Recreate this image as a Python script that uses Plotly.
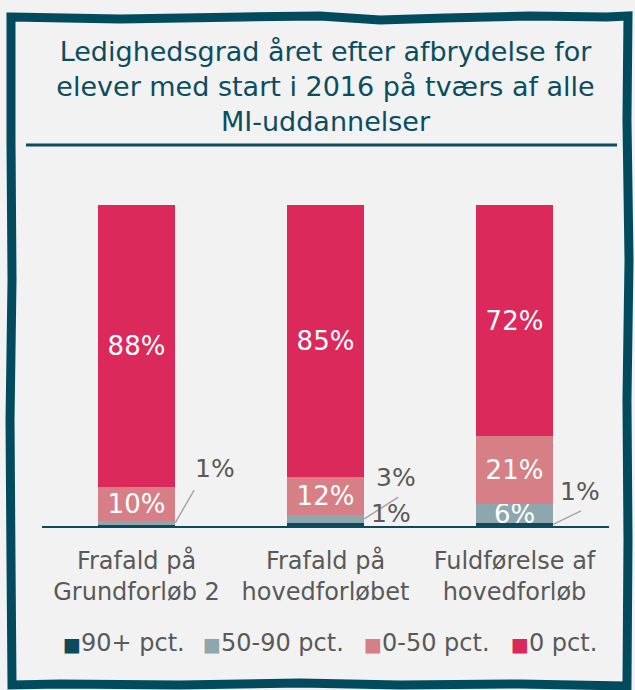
import plotly.graph_objects as go

# categories and series (percent of students)
categories = ["Frafald på<br>Grundforløb 2", "Frafald på<br>hovedforløbet", "Fuldførelse af<br>hovedforløb"]
series_names = ["90+ pct.", "50-90 pct.", "0-50 pct.", "0 pct."]
share_90plus = [0.4, 0.9, 1.0]
share_50_90 = [1.2, 2.6, 5.9]
share_0_50 = [10.4, 11.9, 21.2]
share_0 = [88.0, 84.6, 71.9]

colors = ["#0d4a5c", "#8ea7ae", "#d77f86", "#dc295c"]
TEAL = "#0b4d60"
GREY = "#595959"
FONT = "DejaVu Sans"
W, H = 635, 690
L, R, T, B = 42, 26, 205, 164
BAR_W = 0.41

series = [share_90plus, share_50_90, share_0_50, share_0]

fig = go.Figure()
for name, vals, col in zip(series_names, series, colors):
    txt = [f"{round(v)}%" if v >= 5 else "" for v in vals]
    fig.add_trace(go.Bar(
        x=list(range(len(categories))), y=vals, name=name,
        marker=dict(color=col, line=dict(width=0)),
        width=BAR_W, text=txt, texttemplate="%{text}",
        textposition="inside", insidetextanchor="middle",
        textangle=0, constraintext="none",
        textfont=dict(color="white", size=26, family=FONT),
        hoverinfo="skip", showlegend=False,
    ))

def paper(px, py):
    return (px - L) / (W - L - R), (H - B - py) / (H - T - B)

# small segments get an outside label (category, series, label dx/dy, line end dx/dy or None)
small = [
    (0, 1, 0.21, 17, (0.10, 10.2)),
    (1, 1, 0.17, 12.8, (0.18, 6.8)),
    (1, 0, 0.14, 3.5, None),
    (2, 0, 0.14, 10.1, (0.147, 4.2)),
]
for ci, si, dx, dy, line in small:
    val = series[si][ci]
    mid = sum(series[k][ci] for k in range(si)) + val / 2
    x0 = ci + BAR_W / 2
    fig.add_annotation(x=x0 + dx, y=mid + dy, text=f"{round(val)}%", showarrow=False,
                       font=dict(color=GREY, size=25, family=FONT))
    if line:
        fig.add_shape(type="line", x0=x0, y0=mid, x1=x0 + line[0], y1=mid + line[1],
                      line=dict(color="#a6a6a6", width=1.5))

# legend drawn as text items
legend_left = [61, 201, 362, 509]
for name, col, lx in zip(series_names, colors, legend_left):
    px_, py_ = paper(lx, 643)
    fig.add_annotation(xref="paper", yref="paper", x=px_, y=py_, xanchor="left", yanchor="middle",
                       showarrow=False,
                       text=f"<span style='color:{col};font-size:19px'>■</span>{name}",
                       font=dict(size=24, color=GREY, family=FONT))

# title underline
ux0, uy = paper(26, 145)
ux1, _ = paper(617, 145)
fig.add_shape(type="line", xref="paper", yref="paper", x0=ux0, x1=ux1, y0=uy, y1=uy,
              line=dict(color=TEAL, width=3))

# hand-drawn frame
frame = [(11, 17), (120, 19), (243, 17), (320, 16), (380, 20), (445, 18), (530, 16), (607, 17), (628, 16),
         (627, 120), (629, 260), (627, 400), (628, 540), (627, 686),
         (520, 684), (400, 685), (300, 683), (180, 685), (60, 684), (12, 685),
         (11, 560), (10, 420), (12, 280), (11, 140), (11, 17)]
pts = [paper(x, y) for x, y in frame]
path = "M " + " L ".join(f"{x:.4f},{y:.4f}" for x, y in pts) + " Z"
fig.add_shape(type="path", xref="paper", yref="paper", path=path,
              line=dict(color="#024b5f", width=9), layer="above")

fig.update_layout(
    width=W, height=H,
    barmode="stack", bargap=0,
    paper_bgcolor="#f2f2f2", plot_bgcolor="#f2f2f2",
    margin=dict(l=L, r=R, t=T, b=B),
    font=dict(family=FONT, color=GREY),
    title=dict(text="Ledighedsgrad året efter afbrydelse for<br>elever med start i 2016 på tværs af alle<br>MI-uddannelser",
               x=0.5, xref="paper", y=1 - 61 / H, yref="container", yanchor="middle", xanchor="center",
               font=dict(size=27, color=TEAL, family=FONT)),
    showlegend=False,
)
fig.update_xaxes(range=[-0.5, 2.5], tickvals=list(range(len(categories))), ticktext=categories,
                 showline=True, linecolor="#0d4a5c", linewidth=2, showgrid=False, zeroline=False,
                 ticks="", ticklabelstandoff=12, tickfont=dict(size=24, color=GREY, family=FONT), fixedrange=True)
fig.update_yaxes(range=[0, 100], visible=False, showgrid=False, zeroline=False, fixedrange=True)

fig.write_html("out.html", config={"displayModeBar": False},
               post_script="document.body.style.margin='0px';")
